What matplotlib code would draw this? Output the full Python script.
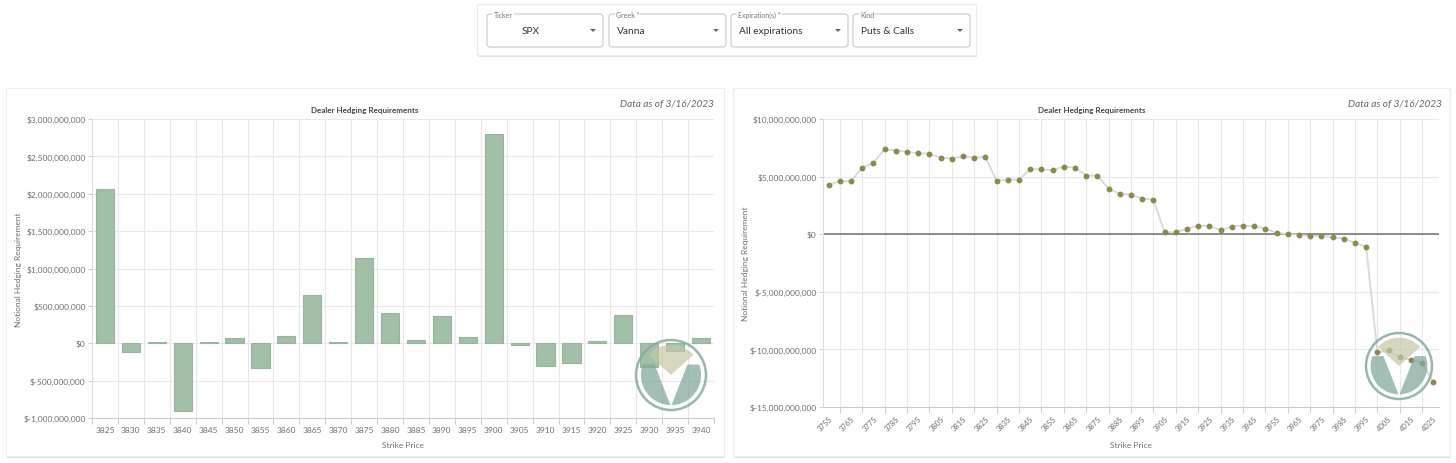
import matplotlib.pyplot as plt
from matplotlib.patches import Rectangle, FancyBboxPatch, Circle, Wedge, Polygon
from matplotlib.ticker import FuncFormatter, FixedLocator

plt.rcParams['font.family'] = ['Lato', 'DejaVu Sans']

W, H = 1456, 464

# dropdowns
control_labels = ["Ticker", "Greek *", "Expiration(s) *", "Kind"]
control_values = ["SPX", "Vanna", "All expirations", "Puts & Calls"]

# left chart (bars), billions
bar_strikes = [3825, 3830, 3835, 3840, 3845, 3850, 3855, 3860, 3865, 3870, 3875, 3880,
               3885, 3890, 3895, 3900, 3905, 3910, 3915, 3920, 3925, 3930, 3935, 3940]
bar_values_bn = [2.06, -0.12, 0.015, -0.91, 0.022, 0.067, -0.33, 0.098, 0.65, 0.022, 1.14, 0.41,
                 0.045, 0.36, 0.085, 2.80, -0.018, -0.30, -0.26, 0.036, 0.374, -0.316, -0.11, 0.067]
bar_yticks_bn = [-1.0, -0.5, 0.0, 0.5, 1.0, 1.5, 2.0, 2.5, 3.0]

# right chart (line), billions
line_strikes = [3755, 3760, 3765, 3770, 3775, 3780, 3785, 3790, 3795, 3800, 3805, 3810, 3815, 3820,
                3825, 3830, 3835, 3840, 3845, 3850, 3855, 3860, 3865, 3870, 3875, 3880, 3885, 3890,
                3895, 3900, 3905, 3910, 3915, 3920, 3925, 3930, 3935, 3940, 3945, 3950, 3955, 3960,
                3965, 3970, 3975, 3980, 3985, 3990, 3995, 4000, 4005, 4010, 4015, 4020, 4025]
line_values_bn = [4.28, 4.60, 4.62, 5.75, 6.21, 7.37, 7.25, 7.17, 7.02, 6.99, 6.65, 6.56, 6.76, 6.65,
                  6.71, 4.65, 4.74, 4.74, 5.64, 5.64, 5.55, 5.87, 5.78, 5.09, 5.09, 3.96, 3.50, 3.44,
                  3.09, 3.00, 0.17, 0.17, 0.49, 0.75, 0.72, 0.35, 0.66, 0.75, 0.69, 0.49, 0.12, 0.00,
                  -0.03, -0.17, -0.14, -0.26, -0.40, -0.75, -1.10, -10.26, -10.09, -10.69, -10.90, -11.16, -12.86]
line_yticks_bn = [-15, -10, -5, 0, 5, 10]

title = "Dealer Hedging Requirements"
as_of = "Data as of 3/16/2023"

GRID = "#e8e8e8"
TXT = "#6f6f6f"


def money(v, pos=None):
    return "$" + format(v, ",.0f")


def rect(x0, y0, x1, y1):
    return [x0 / W, 1 - y1 / H, (x1 - x0) / W, (y1 - y0) / H]


fig = plt.figure(figsize=(W / 100, H / 100), dpi=100)
fig.patch.set_facecolor("white")

bg = fig.add_axes([0, 0, 1, 1])
bg.set_xlim(0, W)
bg.set_ylim(H, 0)
bg.axis("off")
bg.set_zorder(0)

# control panel
bg.add_patch(Rectangle((478, 7), 499, 51, facecolor="#e4e4e4", edgecolor="none"))
bg.add_patch(Rectangle((477, 5), 499, 51, facecolor="white", edgecolor="#ececec", lw=0.8))
box_x = [487, 609, 731, 853]
box_w = [116, 117, 117, 117]
for i in range(4):
    x0 = box_x[i]
    bg.add_patch(FancyBboxPatch((x0, 15), box_w[i], 33, boxstyle="round,pad=0,rounding_size=3",
                                facecolor="white", edgecolor="#c9c9c9", lw=0.8))
    bg.text(x0 + 7, 15, control_labels[i], fontsize=5, color="#777777", va="center", ha="left",
            bbox=dict(facecolor="white", edgecolor="none", pad=0.6))
    if i == 0:
        bg.text(x0 + 44, 31.5, control_values[i], fontsize=7.3, color="#333333", va="center", ha="center")
    else:
        bg.text(x0 + 8, 31.5, control_values[i], fontsize=7.3, color="#333333", va="center", ha="left")
    ax_c = x0 + box_w[i] - 10
    bg.add_patch(Polygon([(ax_c - 3, 30), (ax_c + 3, 30), (ax_c, 33)], closed=True,
                         facecolor="#666666", edgecolor="none"))

# cards
for (x0, x1) in [(6, 724), (733, 1450)]:
    bg.add_patch(Rectangle((x0 + 1, 91), x1 - x0, 368, facecolor="#dcdcdc", edgecolor="none"))
    bg.add_patch(Rectangle((x0, 89), x1 - x0, 368, facecolor="white", edgecolor="#eeeeee", lw=0.8))

bg.text(365, 110, title, fontsize=5.8, fontweight="bold", color="#444444", ha="center", va="center")
bg.text(1092, 110, title, fontsize=5.8, fontweight="bold", color="#444444", ha="center", va="center")
bg.text(714, 105, as_of, fontsize=7.2, style="italic", color="#666666", ha="right", va="center")
bg.text(1442, 105, as_of, fontsize=7.2, style="italic", color="#666666", ha="right", va="center")

# left chart
ax1 = fig.add_axes(rect(92, 120, 714, 419))
ax1.set_zorder(1)
xs = list(range(len(bar_strikes)))
ax1.bar(xs, [v * 1e9 for v in bar_values_bn], width=0.7, color="#a2bfa8", edgecolor="#95b59c",
        lw=0.8, zorder=3)
ax1.set_xlim(-0.5, len(bar_strikes) - 0.5)
ax1.set_ylim(-1e9, 3e9)
ax1.set_yticks([v * 1e9 for v in bar_yticks_bn])
ax1.yaxis.set_major_formatter(FuncFormatter(money))
ax1.set_xticks(xs)
ax1.set_xticklabels([str(s) for s in bar_strikes])
ax1.xaxis.set_minor_locator(FixedLocator([i - 0.5 for i in range(len(bar_strikes) + 1)]))
ax1.tick_params(axis="x", which="major", length=0, pad=6, labelsize=6, labelcolor=TXT)
ax1.tick_params(axis="x", which="minor", length=4, color="#cccccc", width=0.7)
ax1.tick_params(axis="y", length=3, pad=1.5, labelsize=6, labelcolor=TXT, color="#cccccc", width=0.7)
ax1.grid(True, axis="y", color=GRID, lw=0.8, zorder=0)
ax1.grid(True, axis="x", which="minor", color=GRID, lw=0.8, zorder=0)
ax1.set_axisbelow(True)
for s in ["top", "right"]:
    ax1.spines[s].set_visible(False)
ax1.spines["left"].set_color("#dddddd")
ax1.spines["bottom"].set_color("#cccccc")
ax1.set_ylabel("Notional Hedging Requirement", fontsize=6, color=TXT)
ax1.yaxis.set_label_coords(-0.1125, 0.5)
ax1.set_xlabel("Strike Price", fontsize=6, color=TXT)
ax1.xaxis.set_label_coords(0.5, -0.077)

# right chart
ax2 = fig.add_axes(rect(823, 120, 1439, 408))
ax2.set_zorder(1)
lx = list(range(len(line_strikes)))
ax2.plot(lx, [v * 1e9 for v in line_values_bn], color="#d8d8d8", lw=1.3, marker="o",
         markersize=3.2, markerfacecolor="#8b8a4a", markeredgecolor="#8b8a4a", zorder=3)
ax2.axhline(0, color="#707070", lw=1.1, zorder=2)
ax2.set_xlim(-0.5, len(line_strikes) - 0.5)
ax2.set_ylim(-15e9, 10e9)
ax2.set_yticks([v * 1e9 for v in line_yticks_bn])
ax2.yaxis.set_major_formatter(FuncFormatter(money))
ax2.xaxis.set_major_locator(FixedLocator([i for i in lx if i % 2 == 1]))
ax2.xaxis.set_major_formatter(FuncFormatter(lambda v, p: ""))
ax2.set_xticks([i for i in lx if i % 2 == 0], minor=True)
ax2.set_xticklabels([str(line_strikes[i]) for i in lx if i % 2 == 0], minor=True,
                    rotation=45, ha="right", va="top", rotation_mode="anchor")
ax2.tick_params(axis="x", which="major", length=4, color="#cccccc", width=0.7)
ax2.tick_params(axis="x", which="minor", length=0, pad=5, labelsize=5.5, labelcolor=TXT)
ax2.tick_params(axis="y", length=3, pad=1.5, labelsize=6, labelcolor=TXT, color="#cccccc", width=0.7)
ax2.grid(True, axis="both", which="major", color=GRID, lw=0.8, zorder=0)
ax2.set_axisbelow(True)
for s in ["top", "right"]:
    ax2.spines[s].set_visible(False)
ax2.spines["left"].set_color("#dddddd")
ax2.spines["bottom"].set_color("#cccccc")
ax2.set_ylabel("Notional Hedging Requirement", fontsize=6, color=TXT)
ax2.yaxis.set_label_coords(-0.12, 0.5)
ax2.set_xlabel("Strike Price", fontsize=6, color=TXT)
ax2.xaxis.set_label_coords(0.5, -0.118)

# watermark logos
ov = fig.add_axes([0, 0, 1, 1])
ov.set_xlim(0, W)
ov.set_ylim(H, 0)
ov.axis("off")
ov.set_facecolor("none")
ov.set_zorder(5)


def logo(cx, cy, r):
    ov.add_patch(Circle((cx, cy), r, facecolor="none", edgecolor="#86ab9d", lw=1.8, alpha=0.85))
    clip = Circle((cx, cy), 0.86 * r, transform=ov.transData)
    # y axis is inverted here, so negative angles point up on screen
    w = Wedge((cx, cy), 0.86 * r, -138, -42, facecolor="#c6c7a4", edgecolor="none", alpha=0.7)
    ov.add_patch(w)
    left = [(-1.1, 0.3), (-0.47, 0.3), (0.0, -0.9), (0.0, -1.1), (-1.1, -1.1)]
    for sgn in (-1, 1):
        pts = [(cx + sgn * -px * r, cy - py * r) for px, py in left]
        p = Polygon(pts, closed=True, facecolor="#84a89c", edgecolor="none", alpha=0.75)
        ov.add_patch(p)
        p.set_clip_path(clip)


logo(671, 376, 35)
logo(1399, 367, 33)

fig.savefig("out.png", dpi=100, facecolor="white")
